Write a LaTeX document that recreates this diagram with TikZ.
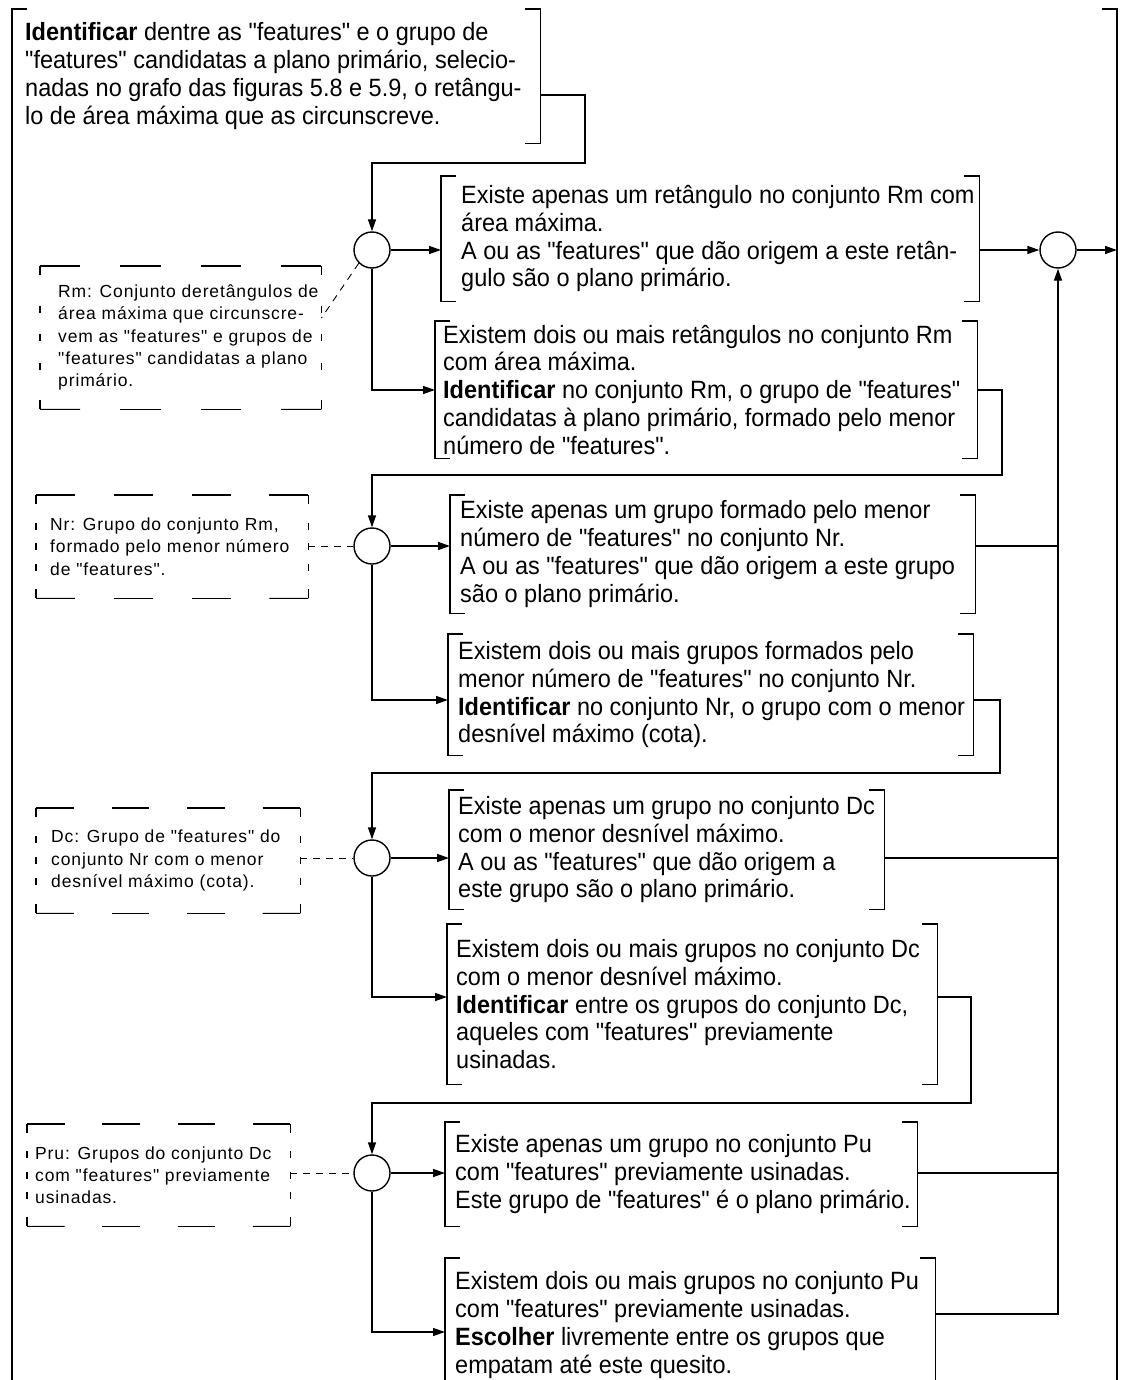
\documentclass[tikz,border=0pt]{standalone}
\usepackage{fontspec}
\setmainfont{Liberation Sans}[FakeStretch=0.94,Ligatures=TeXOff]
\newfontfamily\notefont{Liberation Sans}[LetterSpace=5,Ligatures=TeXOff]
\usetikzlibrary{calc,arrows.meta}

\tikzset{
  line/.style={line width=1.4pt},
  flow/.style={line width=1.4pt, -{Triangle[length=12pt,width=8pt]}},
  frame/.style={anchor=north west, inner sep=0pt, draw=none},
  steptext/.style={anchor=west, inner sep=0pt, align=left,
    font=\fontsize{25}{27.8}\selectfont},
  notetext/.style={anchor=west, inner sep=0pt, align=left,
    font=\notefont\fontsize{17.5}{22.3}\selectfont},
  junction/.style={circle, draw, line width=1.4pt, minimum size=36pt, inner sep=0pt},
  link/.style={line width=0.9pt, dash pattern=on 7pt off 6pt},
  noteedge/.style={line width=1.1pt},
}

% bracket-style frame: "[" on the left and "]" on the right
\newcommand\bracketframe[1]{%
  \draw[line] ($(#1.north west)+(15,0)$) -- (#1.north west) -- (#1.south west) -- ($(#1.south west)+(15,0)$);
  \draw[line] ($(#1.north east)+(-15,0)$) -- (#1.north east) -- (#1.south east) -- ($(#1.south east)+(-15,0)$);
}
% long-dashed frame of a definition note
\newcommand\noteframe[1]{%
  \foreach \s/\e in {0/0.1429, 0.2857/0.4286, 0.5714/0.7143, 0.8571/1} {
    \draw[noteedge] ($(#1.north west)!\s!(#1.north east)$) -- ($(#1.north west)!\e!(#1.north east)$);
    \draw[noteedge] ($(#1.south west)!\s!(#1.south east)$) -- ($(#1.south west)!\e!(#1.south east)$);
  }
  \draw[noteedge] (#1.north west) -- ++(0,9);
  \draw[noteedge] (#1.north east) -- ++(0,9);
  \draw[noteedge] (#1.south west) -- ++(0,-9);
  \draw[noteedge] (#1.south east) -- ++(0,-9);
  \foreach \f in {0.3,0.5,0.7} {
    \draw[noteedge] ($(#1.north west)!\f!(#1.south west)$) ++(0,-3.5) -- ++(0,7);
    \draw[noteedge] ($(#1.north east)!\f!(#1.south east)$) ++(0,-3.5) -- ++(0,7);
  }
}

\begin{document}
\begin{tikzpicture}[x=1pt,y=-1pt]
\useasboundingbox (0,0) rectangle (1130,1380);
\fill[white] (0,0) rectangle (1130,1380);
\clip (0,0) rectangle (1130,1380);

% outer frame
\coordinate (fl) at (12,9);
\coordinate (fr) at (1117,9);
\draw[line] (27,9) -- (fl) -- (12,1390);
\draw[line] (1102,9) -- (fr) -- (1117,1390);

% first activity (its left side is the outer frame)
\node[frame, minimum width=528pt, minimum height=134pt] (a) at (12,9) {};
\node[steptext] (at) at ([xshift=13pt]a.west) {\textbf{Identificar} dentre as "features" e o grupo de\\
"features" candidatas a plano primário, selecio-\\
nadas no grafo das figuras 5.8 e 5.9, o retângu-\\
lo de área máxima que as circunscreve.};
\draw[line] ($(a.north east)+(-15,0)$) -- (a.north east) -- (a.south east) -- ($(a.south east)+(-15,0)$);

% junctions
\node[junction] (j1) at (372,250) {};
\node[junction] (j2) at (372,546) {};
\node[junction] (j3) at (372,858) {};
\node[junction] (j4) at (372,1173) {};
\node[junction] (jout) at (1058,250) {};

% level Rm
\node[frame, minimum width=538pt, minimum height=125pt] (r1) at (441,176) {};
\node[steptext] (r1t) at ([xshift=20pt]r1.west) {Existe apenas um retângulo no conjunto Rm com\\
área máxima.\\
A ou as "features" que dão origem a este retân-\\
gulo são o plano primário.};
\node[frame, minimum width=542pt, minimum height=137pt] (r2) at (435,321) {};
\node[steptext] (r2t) at ([xshift=8pt]r2.west) {Existem dois ou mais retângulos no conjunto Rm\\
com área máxima.\\
\textbf{Identificar} no conjunto Rm, o grupo de "features"\\
candidatas à plano primário, formado pelo menor\\
número de "features".};

% level Nr
\node[frame, minimum width=525pt, minimum height=118pt] (n1) at (450,495) {};
\node[steptext] (n1t) at ([xshift=10pt]n1.west) {Existe apenas um grupo formado pelo menor\\
número de "features" no conjunto Nr.\\
A ou as "features" que dão origem a este grupo\\
são o plano primário.};
\node[frame, minimum width=525pt, minimum height=121pt] (n2) at (448,634) {};
\node[steptext] (n2t) at ([xshift=10pt]n2.west) {Existem dois ou mais grupos formados pelo\\
menor número de "features" no conjunto Nr.\\
\textbf{Identificar} no conjunto Nr, o grupo com o menor\\
desnível máximo (cota).};

% level Dc
\node[frame, minimum width=435pt, minimum height=119pt] (d1) at (449,790) {};
\node[steptext] (d1t) at ([xshift=9pt]d1.west) {Existe apenas um grupo no conjunto Dc\\
com o menor desnível máximo.\\
A ou as "features" que dão origem a\\
este grupo são o plano primário.};
\node[frame, minimum width=490pt, minimum height=160pt] (d2) at (447,924) {};
\node[steptext] (d2t) at ([xshift=9pt]d2.west) {Existem dois ou mais grupos no conjunto Dc\\
com o menor desnível máximo.\\
\textbf{Identificar} entre os grupos do conjunto Dc,\\
aqueles com "features" previamente\\
usinadas.};

% level Pu
\node[frame, minimum width=472pt, minimum height=104pt] (p1) at (445,1122) {};
\node[steptext] (p1t) at ([xshift=10pt]p1.west) {Existe apenas um grupo no conjunto Pu\\
com "features" previamente usinadas.\\
Este grupo de "features" é o plano primário.};
\node[frame, minimum width=490pt, minimum height=134pt] (p2) at (445,1258) {};
\node[steptext] (p2t) at ([xshift=10pt]p2.west) {Existem dois ou mais grupos no conjunto Pu\\
com "features" previamente usinadas.\\
\textbf{Escolher} livremente entre os grupos que\\
empatam até este quesito.};

\foreach \b in {r1,r2,n1,n2,d1,d2,p1,p2} {\bracketframe{\b}}

% definition notes
\node[frame, minimum width=281pt, minimum height=143pt] (rm) at (40,266) {};
\node[notetext] (rmt) at ([xshift=18pt]rm.west) {Rm: Conjunto deretângulos de\\
área máxima que circunscre-\\
vem as "features" e grupos de\\
"features" candidatas a plano\\
primário.};
\node[frame, minimum width=272pt, minimum height=103pt] (nr) at (36,495) {};
\node[notetext] (nrt) at ([xshift=14pt]nr.west) {Nr: Grupo do conjunto Rm,\\
formado pelo menor número\\
de "features".};
\node[frame, minimum width=264pt, minimum height=105pt] (dc) at (36,808) {};
\node[notetext] (dct) at ([xshift=15pt]dc.west) {Dc: Grupo de "features" do\\
conjunto Nr com o menor\\
desnível máximo (cota).};
\node[frame, minimum width=263pt, minimum height=102pt] (pru) at (27,1124) {};
\node[notetext] (prut) at ([xshift=8pt]pru.west) {Pru: Grupos do conjunto Dc\\
com "features" previamente\\
usinadas.};

\foreach \n in {rm,nr,dc,pru} {\noteframe{\n}}

% notes attached to their junctions
\draw[link] (j1.south west) -- ($(rm.north east)+(0,52)$);
\draw[link] (j2.west -| nr.east) -- (j2.west);
\draw[link] (j3.west -| dc.east) -- (j3.west);
\draw[link] (j4.west -| pru.east) -- (j4.west);

% flow: first activity to Rm junction
\coordinate (k1) at (585,163);
\draw[flow] ($(a.north east)+(0,86)$) -| (k1) -| (j1.north);
\draw[flow] (j1.east) -- (j1.east -| r1.west);
\draw[flow] (j1.south) |- ($(r2.north west)+(0,69)$);
\draw[flow] (jout -| r1.east) -- (jout.west);
\draw[flow] (jout.east) -- (jout -| fr);

% Rm to Nr
\coordinate (k2) at (1002,475);
\draw[flow] ($(r2.north east)+(0,69)$) -| (k2) -| (j2.north);
\draw[flow] (j2.east) -- (j2.east -| n1.west);
\draw[flow] (j2.south) |- ($(n2.north west)+(0,66)$);
\draw[line] (j2 -| n1.east) -- (j2 -| jout);

% Nr to Dc
\coordinate (k3) at (1000,773);
\draw[flow] ($(n2.north east)+(0,66)$) -| (k3) -| (j3.north);
\draw[flow] (j3.east) -- (j3.east -| d1.west);
\draw[flow] (j3.south) |- ($(d2.north west)+(0,73)$);
\draw[line] (j3 -| d1.east) -- (j3 -| jout);

% Dc to Pu
\coordinate (k4) at (971,1103);
\draw[flow] ($(d2.north east)+(0,73)$) -| (k4) -| (j4.north);
\draw[flow] (j4.east) -- (j4.east -| p1.west);
\draw[flow] (j4.south) |- ($(p2.north west)+(0,74)$);
\draw[line] (j4 -| p1.east) -- (j4 -| jout);

% collecting line back to the output junction
\draw[flow] ($(p2.north east)+(0,56)$) -| (jout.south);
\end{tikzpicture}
\end{document}
